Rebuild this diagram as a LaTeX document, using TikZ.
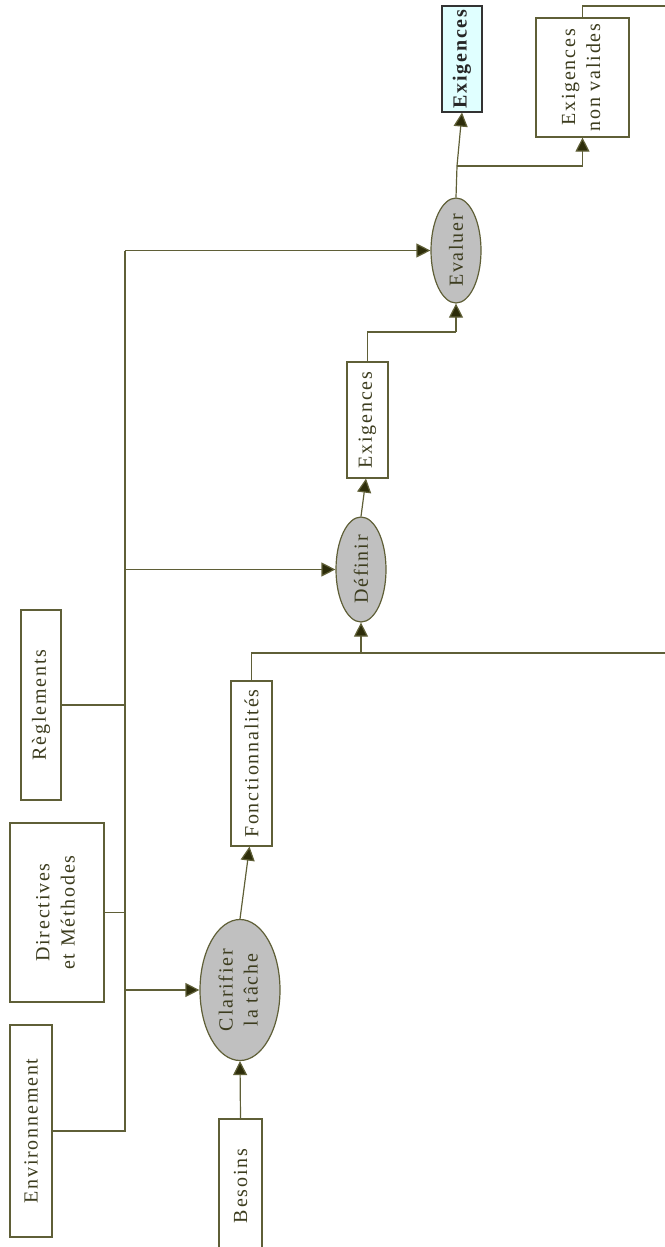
\documentclass[tikz,border=0pt]{standalone}
\usepackage{fontspec}
\setmainfont[LetterSpace=9]{Liberation Serif}
\usetikzlibrary{shapes.geometric,arrows.meta}
\definecolor{lineC}{RGB}{95,95,55}
\definecolor{tipC}{RGB}{45,45,10}
\definecolor{txtC}{RGB}{60,60,30}
\definecolor{ellC}{RGB}{192,192,192}
\definecolor{cyanC}{RGB}{224,255,255}
\tikzset{
  x=1pt,y=1pt,
  every node/.style={font=\fontsize{20}{25}\selectfont, text=txtC},
  box/.style={draw=lineC, line width=1.2pt, fill=white, inner sep=0pt},
  proc/.style={ellipse, draw=lineC, line width=1.2pt, fill=ellC, inner sep=0pt},
  conn/.style={draw=lineC, line width=1.2pt},
  arr/.style={conn, -{Triangle[length=14pt,width=14pt,fill=tipC]}},
}
\newcommand{\rt}[1]{\rotatebox{90}{#1}}
\newcommand{\rtt}[2]{\rotatebox{90}{\begin{tabular}{@{}c@{}}#1\\#2\end{tabular}}}
\begin{document}
\begin{tikzpicture}
\useasboundingbox (0,0) rectangle (664,-1247);
% nodes
\node[box, minimum width=42, minimum height=212] (env) at (31,-1131) {\rt{Environnement}};
\node[box, minimum width=43, minimum height=134] (bes) at (240.5,-1186) {\rt{Besoins}};
\node[box, minimum width=94, minimum height=179] (dir) at (57,-912.5) {\rtt{Directives}{et Méthodes}};
\node[box, minimum width=40, minimum height=190] (reg) at (41,-705) {\rt{Règlements}};
\node[box, minimum width=41, minimum height=165] (fonc) at (251.5,-763.5) {\rt{Fonctionnalités}};
\node[proc, minimum width=80, minimum height=141] (clar) at (240,-990) {\rtt{Clarifier}{la tâche}};
\node[proc, minimum width=50, minimum height=105] (def) at (361,-569.5) {\rt{Définir}};
\node[box, minimum width=41, minimum height=116] (exi) at (367.5,-420) {\rt{Exigences}};
\node[proc, minimum width=50, minimum height=105] (eva) at (456,-250.5) {\rt{Evaluer}};
\node[box, fill=cyanC, draw=black!80, minimum width=40, minimum height=106, text=black!85, font=\fontsize{20}{25}\selectfont\bfseries] (exo) at (462,-59) {\rt{Exigences}};
\node[box, minimum width=93, minimum height=119] (exn) at (582.5,-77.5) {\rtt{Exigences}{non valides}};
% coordinates
\coordinate (btop) at (125,-250.5);
\coordinate (bbot) at (125,-1131);
\coordinate (fb) at (361,-653);
\coordinate (rA) at (670,-653);
\coordinate (ec) at (456,-332);
\coordinate (br) at (457,-166);
\coordinate (rB) at (670,-6);
% bus
\draw[conn] (env.east) -- (bbot) -- (btop);
\draw[arr] (btop) -- (eva.west);
\draw[conn] (dir.east) -- (dir.east -| btop);
\draw[conn] (reg.east) -- (reg.east -| btop);
\draw[arr] (clar.west -| btop) -- (clar.west);
\draw[arr] (def.west -| btop) -- (def.west);
% flow
\draw[arr] (bes.north) -- (clar.south);
\draw[arr] (clar.north) -- ([xshift=-2pt]fonc.south);
\draw[conn] (fonc.north) |- (fb);
\draw[conn] (fb) -- (rA);
\draw[arr] (fb) -- (def.south);
\draw[arr] (def.north) -- ([xshift=-1.5pt]exi.south);
\draw[conn] (exi.north) |- (ec);
\draw[arr] (ec) -- (eva.south);
\draw[conn] (eva.north) -- (br);
\draw[arr] (br) -- (exo.south);
\draw[arr] (br) -| (exn.south);
\draw[conn] (exn.north) |- (rB);
\end{tikzpicture}
\end{document}
